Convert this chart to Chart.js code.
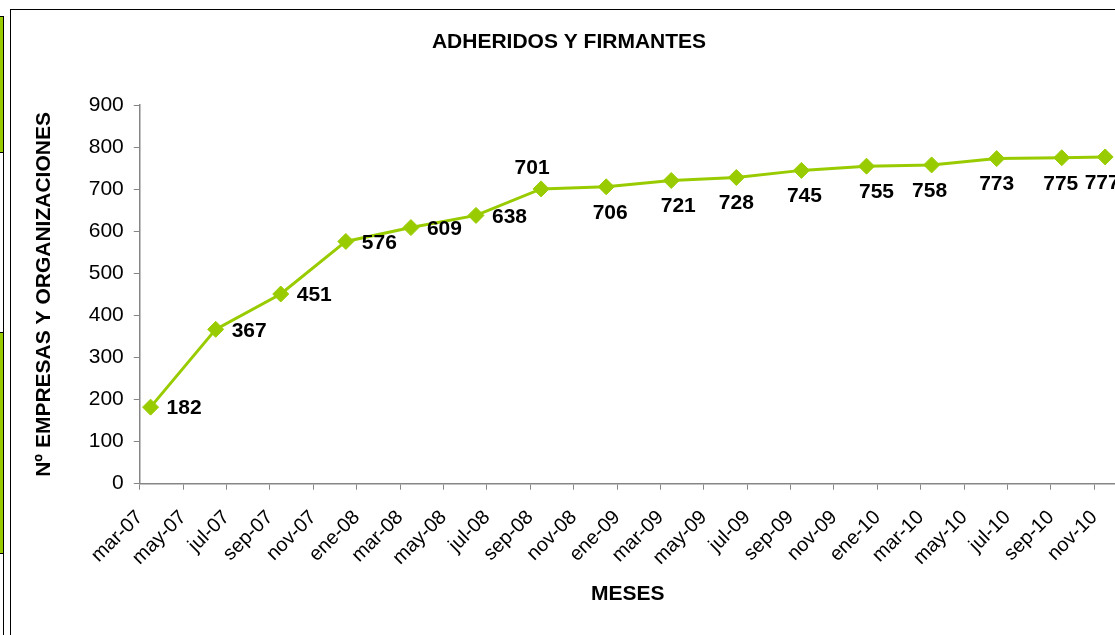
<!DOCTYPE html>
<html>
<head>
<meta charset="utf-8">
<script src="https://cdn.jsdelivr.net/npm/chart.js@4.4.1/dist/chart.umd.min.js"></script>
<style>
    html, body { margin: 0; padding: 0; background: #fff; overflow: hidden; }
    body { width: 1115px; height: 635px; position: relative; }
    #marco { position: absolute; left: 10px; top: 9px; width: 1130px; height: 700px; border: 1.5px solid #000; box-sizing: border-box; }
    #tira { position: absolute; left: -10px; top: 16px; width: 14px; height: 700px; border: 1.5px solid #000; box-sizing: border-box; background: #fff; }
    .verde { position: absolute; left: -10px; width: 14px; background: #99cc00; border: 1.5px solid #000; box-sizing: border-box; }
    #adheridosChart { position: absolute; left: 0; top: 0; }
</style>
</head>
<body>
<div id="tira"></div>
<div class="verde" style="top:16px;height:137px"></div>
<div class="verde" style="top:332px;height:222px"></div>
<div id="marco"></div>
<canvas id="adheridosChart" width="1130" height="635"></canvas>
<script>
const fechas = ['2007-03', '2007-06', '2007-09', '2007-12', '2008-03', '2008-06', '2008-09', '2008-12',
    '2009-03', '2009-06', '2009-09', '2009-12', '2010-03', '2010-06', '2010-09', '2010-11'];
const adheridos = [182, 367, 451, 576, 609, 638, 701, 706, 721, 728, 745, 755, 758, 773, 775, 777];

const tickLabels = ['mar-07', 'may-07', 'jul-07', 'sep-07', 'nov-07', 'ene-08', 'mar-08', 'may-08',
    'jul-08', 'sep-08', 'nov-08', 'ene-09', 'mar-09', 'may-09', 'jul-09', 'sep-09', 'nov-09',
    'ene-10', 'mar-10', 'may-10', 'jul-10', 'sep-10', 'nov-10'];

// where each value label sits relative to its point
const labelPos = ['right', 'right', 'right', 'right', 'right', 'right', 'above', 'below',
    'below', 'below', 'below', 'below', 'below', 'below', 'below', 'below'];
const labelDx = [0, 0, 0, 0, 0, 0, -9, 4, 7, 0, 3, 10, -2, 0, -1, -3];

const FONT = '"Liberation Sans", Arial, sans-serif';

// months since mar-07, placed in the middle of the month
function mesIndice(f) {
    const [a, m] = f.split('-').map(Number);
    return (a - 2007) * 12 + (m - 3) + 0.5;
}

const etiquetas = {
    id: 'etiquetas',
    afterDatasetsDraw(chart) {
        const ctx = chart.ctx;
        const meta = chart.getDatasetMeta(0);
        ctx.save();
        ctx.font = 'bold 21px ' + FONT;
        ctx.fillStyle = '#000';
        ctx.textBaseline = 'middle';
        meta.data.forEach((pt, i) => {
            let x = pt.x + labelDx[i];
            let y = pt.y;
            if (labelPos[i] === 'right') {
                ctx.textAlign = 'left';
                x += 16;
                y += 1.5;
            } else if (labelPos[i] === 'above') {
                ctx.textAlign = 'center';
                y -= 21;
            } else {
                ctx.textAlign = 'center';
                y += 26;
            }
            ctx.fillText(String(adheridos[i]), x, y);
        });
        ctx.restore();
    }
};

const ctx = document.getElementById('adheridosChart').getContext('2d');

new Chart(ctx, {
    type: 'line',
    data: {
        datasets: [{
            data: fechas.map((f, i) => ({ x: mesIndice(f), y: adheridos[i] })),
            borderColor: '#99cc00',
            borderWidth: 3,
            pointStyle: 'rectRot',
            pointRadius: 8,
            pointBackgroundColor: '#99cc00',
            pointBorderColor: '#99cc00',
            pointBorderWidth: 1,
            tension: 0,
            clip: false
        }]
    },
    options: {
        responsive: false,
        animation: false,
        layout: {
            padding: { left: 22, right: 14, top: 0, bottom: 10 }
        },
        plugins: {
            legend: { display: false },
            tooltip: { enabled: false },
            title: {
                display: true,
                text: 'ADHERIDOS Y FIRMANTES',
                color: '#000',
                font: { family: FONT, size: 21, weight: 'bold' },
                padding: { top: 30, bottom: 50 }
            }
        },
        scales: {
            x: {
                type: 'linear',
                min: 0,
                max: 45,
                ticks: {
                    stepSize: 2,
                    autoSkip: false,
                    includeBounds: false,
                    minRotation: 45,
                    maxRotation: 45,
                    padding: 16,
                    color: '#000',
                    font: { family: FONT, size: 20 },
                    callback: (value, index) => tickLabels[index]
                },
                grid: {
                    drawOnChartArea: false,
                    tickLength: 6,
                    tickColor: '#868686'
                },
                border: { color: '#868686', width: 1.5 },
                title: {
                    display: true,
                    text: 'MESES',
                    color: '#000',
                    font: { family: FONT, size: 21, weight: 'bold' },
                    padding: { top: -4, bottom: 18 }
                }
            },
            y: {
                min: 0,
                max: 900,
                ticks: {
                    stepSize: 100,
                    padding: 10,
                    color: '#000',
                    font: { family: FONT, size: 21 }
                },
                grid: {
                    drawOnChartArea: false,
                    tickLength: 6,
                    tickColor: '#868686'
                },
                border: { color: '#868686', width: 1.5 },
                title: {
                    display: true,
                    text: 'Nº EMPRESAS Y ORGANIZACIONES',
                    color: '#000',
                    font: { family: FONT, size: 21, weight: 'bold' },
                    padding: { top: 10, bottom: 21.5 }
                }
            }
        }
    },
    plugins: [etiquetas]
});
</script>
</body>
</html>
